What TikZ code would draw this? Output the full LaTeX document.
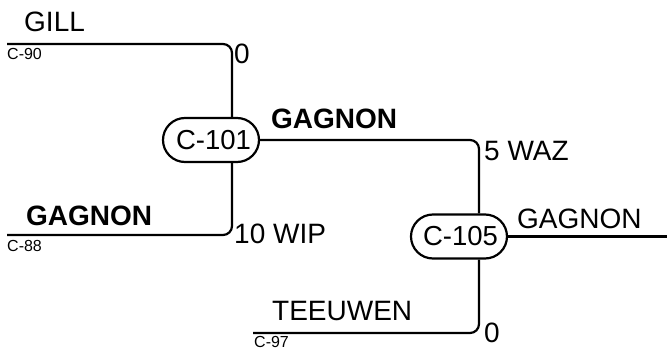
\documentclass[tikz,border=0pt]{standalone}
\usepackage{fontspec}
\setmainfont{Liberation Sans}
\usetikzlibrary{positioning,calc}

\begin{document}
\begin{tikzpicture}[x=1pt,y=1pt,
    link/.style={line width=2.2pt, rounded corners=9pt},
    game/.style={draw, line width=2.2pt, rounded corners=22pt, minimum width=96pt,
        minimum height=44pt, inner sep=0pt, font=\fontsize{27.5}{30}\selectfont},
    player/.style={anchor=base west, inner sep=0pt, font=\fontsize{28}{30}\selectfont},
    winner/.style={player, font=\fontsize{28}{30}\selectfont\bfseries},
    matchid/.style={anchor=base west, inner sep=0pt, font=\fontsize{16}{17}\selectfont}]
    \useasboundingbox (0,0) rectangle (667,349);

    % Games
    \node[game] (c101) at (211,209) {\hspace*{5pt}C-101};
    \node[game] (c105) at (459,112.5) {\hspace*{3pt}C-105};
    \coordinate (axis101) at ($(c101.center)+(21,0)$);
    \coordinate (axis105) at ($(c105.center)+(20,0)$);

    % Line ends
    \coordinate (gillin) at (7,305);
    \coordinate (gagin) at (7,114);
    \coordinate (teein) at (253,16);
    \coordinate (gagout) at (667,112.5);

    % Bracket lines
    \draw[link] (gillin) -| (c101.north -| axis101);
    \draw[link] (gagin) -| (c101.south -| axis101);
    \draw[link] (c101.east) -| (c105.north -| axis105);
    \draw[link] (teein) -| (c105.south -| axis105);
    \draw[link] (c105.east) -- (gagout);

    % Players and scores
    \node[player] (gill) at (24,317) {GILL};
    \node[matchid] (c90) at (7,289) {C-90};
    \node[player] (gillsc) at (234,285) {0};
    \node[winner] (gag1) at (26,124) {GAGNON};
    \node[matchid] (c88) at (7,98) {C-88};
    \node[player] (gagsc) at (234,106) {10 WIP};
    \node[winner] (gag2) at (271,221) {GAGNON};
    \node[player] (gag2sc) at (484,189) {5 WAZ};
    \node[player] (tee) at (272,29) {TEEUWEN};
    \node[matchid] (c97) at (254,2) {C-97};
    \node[player] (teesc) at (484,7) {0};
    \node[player] (gag3) at (517,121) {GAGNON};
\end{tikzpicture}
\end{document}
